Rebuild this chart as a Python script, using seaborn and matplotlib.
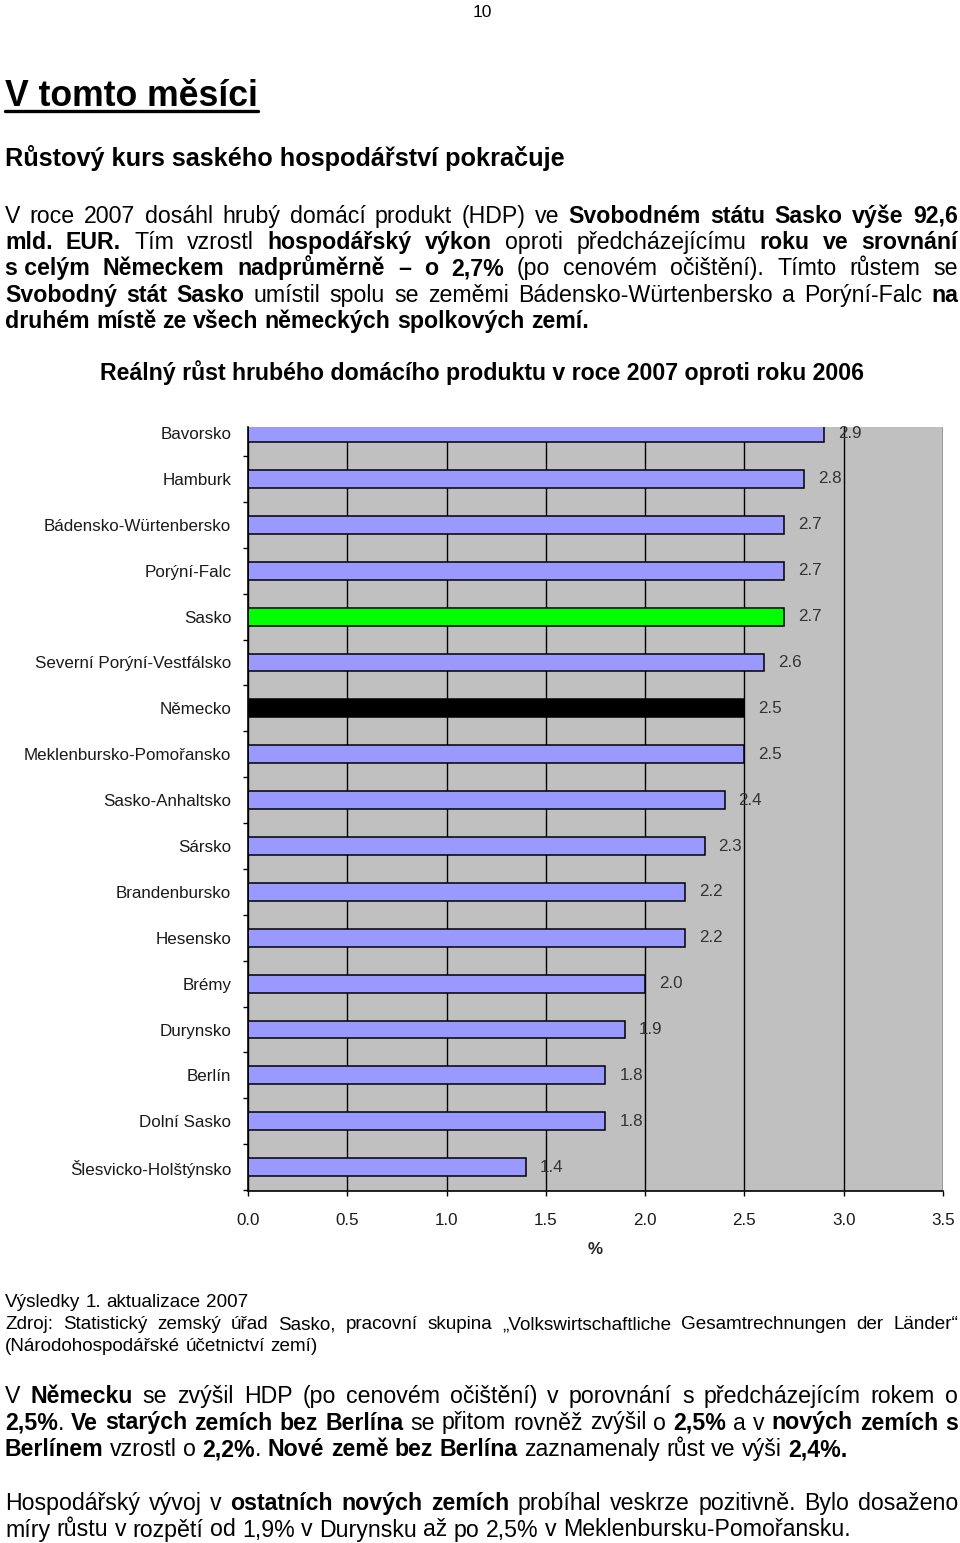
import numpy as np
import pandas as pd
import matplotlib
matplotlib.use("Agg")
import matplotlib.pyplot as plt
import seaborn as sns
from matplotlib.font_manager import FontProperties
from matplotlib.ticker import FixedLocator
from matplotlib.lines import Line2D

sns.set_theme(style="white")
FAM = ['Liberation Sans', 'DejaVu Sans']
plt.rcParams['font.family'] = FAM

# --- data -------------------------------------------------------------
zeme = ['Bavorsko', 'Hamburk', 'Bádensko-Würtenbersko', 'Porýní-Falc', 'Sasko',
        'Severní Porýní-Vestfálsko', 'Německo', 'Meklenbursko-Pomořansko',
        'Sasko-Anhaltsko', 'Sársko', 'Brandenbursko', 'Hesensko', 'Brémy',
        'Durynsko', 'Berlín', 'Dolní Sasko', 'Šlesvicko-Holštýnsko']
rust = [2.9, 2.8, 2.7, 2.7, 2.7, 2.6, 2.5, 2.5, 2.4, 2.3, 2.2, 2.2, 2.0, 1.9, 1.8, 1.8, 1.4]
barvy = ['#9999FF'] * 4 + ['#00FF00'] + ['#9999FF'] + ['#000000'] + ['#9999FF'] * 10
x_ticks = [0.0, 0.5, 1.0, 1.5, 2.0, 2.5, 3.0, 3.5]

stranka = '10'
nadpis = 'V tomto měsíci'
podnadpis = 'Růstový kurs saského hospodářství pokračuje'
odstavec1 = [
    [("V roce 2007 dosáhl hrubý domácí produkt (HDP) ve ", False), ("Svobodném státu Sasko výše 92,6", True)],
    [("mld. EUR.", True), (" Tím vzrostl ", False), ("hospodářský výkon", True),
     (" oproti předcházejícímu ", False), ("roku ve srovnání", True)],
    [("s\u00a0celým Německem nadprůměrně – o 2,7%", True), (" (po cenovém očištění). Tímto růstem se", False)],
    [("Svobodný stát Sasko", True), (" umístil spolu se zeměmi Bádensko-Würtenbersko a Porýní-Falc ", False), ("na", True)],
    [("druhém místě ze všech německých spolkových zemí.", True)],
]
titulek = 'Reálný růst hrubého domácího produktu v roce 2007 oproti roku 2006'
zdroj = [
    [("Výsledky 1. aktualizace 2007", False)],
    [("Zdroj: Statistický zemský úřad Sasko, pracovní skupina „Volkswirtschaftliche Gesamtrechnungen der Länder“", False)],
    [("(Národohospodářské účetnictví zemí)", False)],
]
odstavec2 = [
    [("V ", False), ("Německu", True), (" se zvýšil HDP (po cenovém očištění) v porovnání s předcházejícím rokem o", False)],
    [("2,5%", True), (". ", False), ("Ve starých zemích bez Berlína", True), (" se přitom rovněž zvýšil o ", False),
     ("2,5%", True), (" a v ", False), ("nových zemích s", True)],
    [("Berlínem", True), (" vzrostl o ", False), ("2,2%", True), (". ", False), ("Nové země bez Berlína", True),
     (" zaznamenaly růst ve výši ", False), ("2,4%.", True)],
]
odstavec3 = [
    [("Hospodářský vývoj v ", False), ("ostatních nových zemích", True), (" probíhal veskrze pozitivně. Bylo dosaženo", False)],
    [("míry růstu v rozpětí od 1,9% v Durynsku až po 2,5% v Meklenbursku-Pomořansku.", False)],
]

W, H = 960, 1543
fig = plt.figure(figsize=(W / 100, H / 100), dpi=100)
renderer = fig.canvas.get_renderer()


def width_px(s, size, bold=False):
    fp = FontProperties(family=FAM, size=size, weight='bold' if bold else 'normal')
    w, h, d = renderer.get_text_width_height_descent(s, fp, ismath=False)
    return w


def fit(s, target, bold=False):
    return 10 * target / width_px(s, 10, bold)


def put(s, x, y, size, bold=False, ha='left', color='black'):
    fig.text(x / W, 1 - y / H, s, fontsize=size, fontweight='bold' if bold else 'normal',
             ha=ha, va='baseline', color=color)


def words_of(segs):
    words, new = [], True
    for text, b in segs:
        for k, p in enumerate(text.split(' ')):
            if k > 0:
                new = True
            if p == '':
                continue
            if new or not words:
                words.append([(p, b)])
            else:
                words[-1].append((p, b))
            new = False
    return words


def line(segs, y, size, justify=True, x0=5, x1=958):
    words = words_of(segs)
    widths = [sum(width_px(p, size, b) for p, b in w) for w in words]
    if justify and len(words) > 1:
        gap = (x1 - x0 - sum(widths)) / (len(words) - 1)
    else:
        gap = width_px('a a', size) - width_px('aa', size)
    x = x0
    for w, wd in zip(words, widths):
        xx = x
        for p, b in w:
            put(p, xx, y, size, b)
            xx += width_px(p, size, b)
        x += wd + gap


# --- page text ----------------------------------------------------------
body = fit(odstavec3[1][0][0], 846)
small = fit(zdroj[2][0][0], 315)

put(stranka, 482, 17, 12.5, ha='center')
put(nadpis, 5, 106, fit(nadpis, 253, True), True)
fig.add_artist(Line2D([5 / W, 258 / W], [1 - 111 / H] * 2, lw=2.4, color='black'))
put(podnadpis, 5, 166, fit(podnadpis, 559, True), True)

for i, segs in enumerate(odstavec1):
    line(segs, 223 + i * 26.2, body, justify=(i < len(odstavec1) - 1))

put(titulek, 482, 380, fit(titulek, 768, True), True, ha='center')

for i, segs in enumerate(zdroj):
    line(segs, 1307 + i * 22, small, justify=(i == 1))

for i, segs in enumerate(odstavec2):
    line(segs, 1403 + i * 26.5, body, justify=(i < len(odstavec2) - 1))
for i, segs in enumerate(odstavec3):
    line(segs, 1510 + i * 26.5, body, justify=(i < len(odstavec3) - 1))

# --- chart ----------------------------------------------------------------
ax = fig.add_axes([248 / W, 1 - 1191 / H, (943 - 248) / W, (1191 - 427) / H])
df = pd.DataFrame({'zeme': zeme, 'rust': rust})
sns.barplot(data=df, x='rust', y='zeme', hue='zeme', palette=dict(zip(zeme, barvy)),
            saturation=1, legend=False, width=0.39, edgecolor='black', linewidth=1.1,
            orient='h', ax=ax)

lab = fit('Bádensko-Würtenbersko', 188)
for c in ax.containers:
    ax.bar_label(c, fmt='%.1f', padding=10, fontsize=lab, color='#333333')

ax.set_facecolor('#C0C0C0')
ax.set_xlim(0, 3.5)
ax.set_ylim(16.52, -0.133)
ax.set_xticks(x_ticks)
ax.set_xticklabels([f'{t:.1f}' for t in x_ticks])
ax.set_axisbelow(True)
ax.grid(axis='x', color='black', linewidth=1.0)
ax.grid(axis='y', visible=False)
for s in ['top', 'right']:
    ax.spines[s].set_visible(False)
for s in ['left', 'bottom']:
    ax.spines[s].set_color('black')
    ax.spines[s].set_linewidth(1.2)

ax.yaxis.set_minor_locator(FixedLocator(np.arange(0.5, 17, 1)))
ax.tick_params(axis='y', which='major', length=0, pad=12, labelsize=lab, labelcolor='#1a1a1a')
ax.tick_params(axis='y', which='minor', left=True, length=3.6, width=1, color='black', direction='out')
ax.tick_params(axis='x', which='major', bottom=True, length=3.6, width=1, color='black',
               direction='out', pad=12, labelsize=lab, labelcolor='#1a1a1a')
ax.set_ylabel('')
ax.set_xlabel('%', fontweight='bold', fontsize=lab, labelpad=10)

fig.savefig('out.png', dpi=100)
